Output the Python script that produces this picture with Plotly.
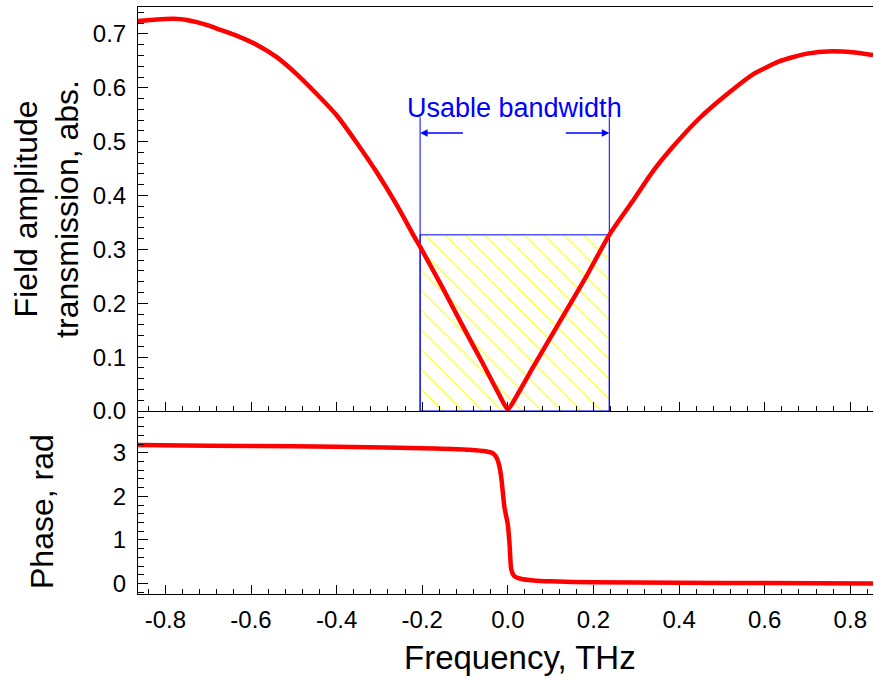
import plotly.graph_objects as go
from plotly.subplots import make_subplots

# ---- data ----
freq_amp = [-0.867, -0.82, -0.78, -0.75, -0.70, -0.68, -0.634, -0.587, -0.540, -0.494,
            -0.447, -0.400, -0.354, -0.307, -0.260, -0.221, -0.205, -0.152, -0.105,
            -0.059, -0.020, 0.0, 0.020, 0.058, 0.120, 0.182, 0.237, 0.291, 0.338,
            0.385, 0.447, 0.509, 0.571, 0.634, 0.696, 0.758, 0.805, 0.853]
amplitude = [0.724, 0.727, 0.728, 0.726, 0.716, 0.710, 0.697, 0.680, 0.657, 0.626,
             0.589, 0.549, 0.499, 0.444, 0.383, 0.327, 0.305, 0.228, 0.157,
             0.089, 0.030, 0.003, 0.027, 0.080, 0.164, 0.248, 0.327, 0.389, 0.444,
             0.490, 0.543, 0.586, 0.624, 0.649, 0.663, 0.668, 0.666, 0.661]

freq_phase = [-0.867, -0.70, -0.50, -0.40, -0.17, -0.09, -0.05, -0.035, -0.027, -0.020,
              -0.015, -0.008, 0.000, 0.004, 0.008, 0.015, 0.030, 0.060, 0.100, 0.200,
              0.400, 0.600, 0.853]
phase = [3.18, 3.16, 3.15, 3.14, 3.10, 3.07, 3.03, 2.99, 2.90, 2.70,
         2.40, 1.75, 1.35, 0.90, 0.32, 0.17, 0.11, 0.07, 0.05, 0.03,
         0.02, 0.01, 0.00]

band_lo = -0.205
band_hi = 0.237
band_level = 0.327
band_marker_top = 0.545
arrow_level = 0.516
arrow_left_tail = -0.1015
arrow_right_tail = 0.132
band_label = "Usable bandwidth"

x_ticks = [-0.8, -0.6, -0.4, -0.2, 0.0, 0.2, 0.4, 0.6, 0.8]
x_ticktext = ["-0.8", "-0.6", "-0.4", "-0.2", "0.0", "0.2", "0.4", "0.6", "0.8"]
amp_ticks = [0.0, 0.1, 0.2, 0.3, 0.4, 0.5, 0.6, 0.7]
amp_ticktext = ["0.0", "0.1", "0.2", "0.3", "0.4", "0.5", "0.6", "0.7"]
phase_ticks = [0, 1, 2, 3]
phase_ticktext = ["0", "1", "2", "3"]

FONT = "Liberation Sans, Arial, sans-serif"
RED = "#ff0000"
BLUE = "#0000ff"

fig = make_subplots(rows=2, cols=1, shared_xaxes=True, vertical_spacing=0,
                    row_heights=[0.6882, 0.3118])

# hatched usable-band box
fig.add_trace(go.Scatter(
    x=[band_lo, band_lo, band_hi, band_hi, band_lo],
    y=[0, band_level, band_level, 0, 0],
    mode="lines", line=dict(color=BLUE, width=1),
    fill="toself", fillcolor="rgba(255,255,255,0)",
    fillpattern=dict(shape="\\", fgcolor="#ffff00", bgcolor="rgba(255,255,255,0)",
                     size=14, solidity=0.08, fillmode="replace"),
    hoverinfo="skip", showlegend=False), row=1, col=1)

# vertical marker lines
for xv in (band_lo, band_hi):
    fig.add_trace(go.Scatter(x=[xv, xv], y=[0, band_marker_top], mode="lines",
                             line=dict(color=BLUE, width=1), showlegend=False,
                             hoverinfo="skip"), row=1, col=1)

fig.add_trace(go.Scatter(x=freq_amp, y=amplitude, mode="lines",
                         line=dict(color=RED, width=4.5, shape="spline", smoothing=0.6),
                         showlegend=False), row=1, col=1)
fig.add_trace(go.Scatter(x=freq_phase, y=phase, mode="lines",
                         line=dict(color=RED, width=4.5, shape="spline", smoothing=0.6),
                         showlegend=False), row=2, col=1)

# arrows + label
fig.add_annotation(x=band_lo, y=arrow_level, ax=arrow_left_tail, ay=arrow_level,
                   xref="x", yref="y", axref="x", ayref="y", text="",
                   showarrow=True, arrowhead=2, arrowsize=1.0, arrowwidth=1.5,
                   arrowcolor=BLUE)
fig.add_annotation(x=band_hi, y=arrow_level, ax=arrow_right_tail, ay=arrow_level,
                   xref="x", yref="y", axref="x", ayref="y", text="",
                   showarrow=True, arrowhead=2, arrowsize=1.0, arrowwidth=1.5,
                   arrowcolor=BLUE)
fig.add_annotation(x=(band_lo + band_hi) / 2, y=band_marker_top, xref="x", yref="y",
                   text=band_label, showarrow=False, yanchor="bottom", yshift=-8,
                   font=dict(family=FONT, size=27, color=BLUE))

# axis titles placed as annotations for exact placement
fig.add_annotation(x=0.52, y=-0.109, xref="paper", yref="paper",
                   text="Frequency, THz", showarrow=False,
                   xanchor="center", yanchor="middle",
                   font=dict(family=FONT, size=33, color="black"))
fig.add_annotation(x=-0.1306, y=0.1397, xref="paper", yref="paper",
                   text="Phase, rad", showarrow=False, textangle=-90,
                   xanchor="center", yanchor="middle",
                   font=dict(family=FONT, size=32, color="black"))

axis_common = dict(showline=True, linecolor="black", linewidth=1, ticks="inside",
                   tickcolor="black", tickwidth=1, showgrid=False, zeroline=False,
                   tickfont=dict(family=FONT, size=24, color="black"))

fig.update_xaxes(range=[-0.864, 0.853], tickvals=x_ticks, ticktext=x_ticktext,
                 ticklen=9, minor=dict(dtick=0.04, tick0=0, ticks="inside", ticklen=5,
                                        tickcolor="black", showgrid=False),
                 **axis_common)
fig.update_xaxes(showticklabels=False, mirror=True, row=1, col=1)
fig.update_xaxes(ticklabelstandoff=4, row=2, col=1)

fig.update_yaxes(range=[0, 0.75], tickvals=amp_ticks, ticktext=amp_ticktext,
                 ticklen=10, ticklabelstandoff=6,
                 minor=dict(dtick=0.02, tick0=0, ticks="inside", ticklen=6,
                            tickcolor="black", showgrid=False),
                 title=dict(text="Field amplitude<br>transmission, abs.", standoff=4,
                            font=dict(family=FONT, size=32, color="black")),
                 row=1, col=1, **axis_common)
fig.update_yaxes(range=[-0.24, 3.96], tickvals=phase_ticks, ticktext=phase_ticktext,
                 ticklen=10, ticklabelstandoff=6,
                 minor=dict(dtick=0.2, tick0=0, ticks="inside", ticklen=6,
                            tickcolor="black", showgrid=False),
                 row=2, col=1, **axis_common)

fig.update_layout(width=874, height=682, margin=dict(l=138, r=1, t=7, b=88),
                  plot_bgcolor="white", paper_bgcolor="white",
                  font=dict(family=FONT, color="black"), showlegend=False)

fig.write_html("out.html")
